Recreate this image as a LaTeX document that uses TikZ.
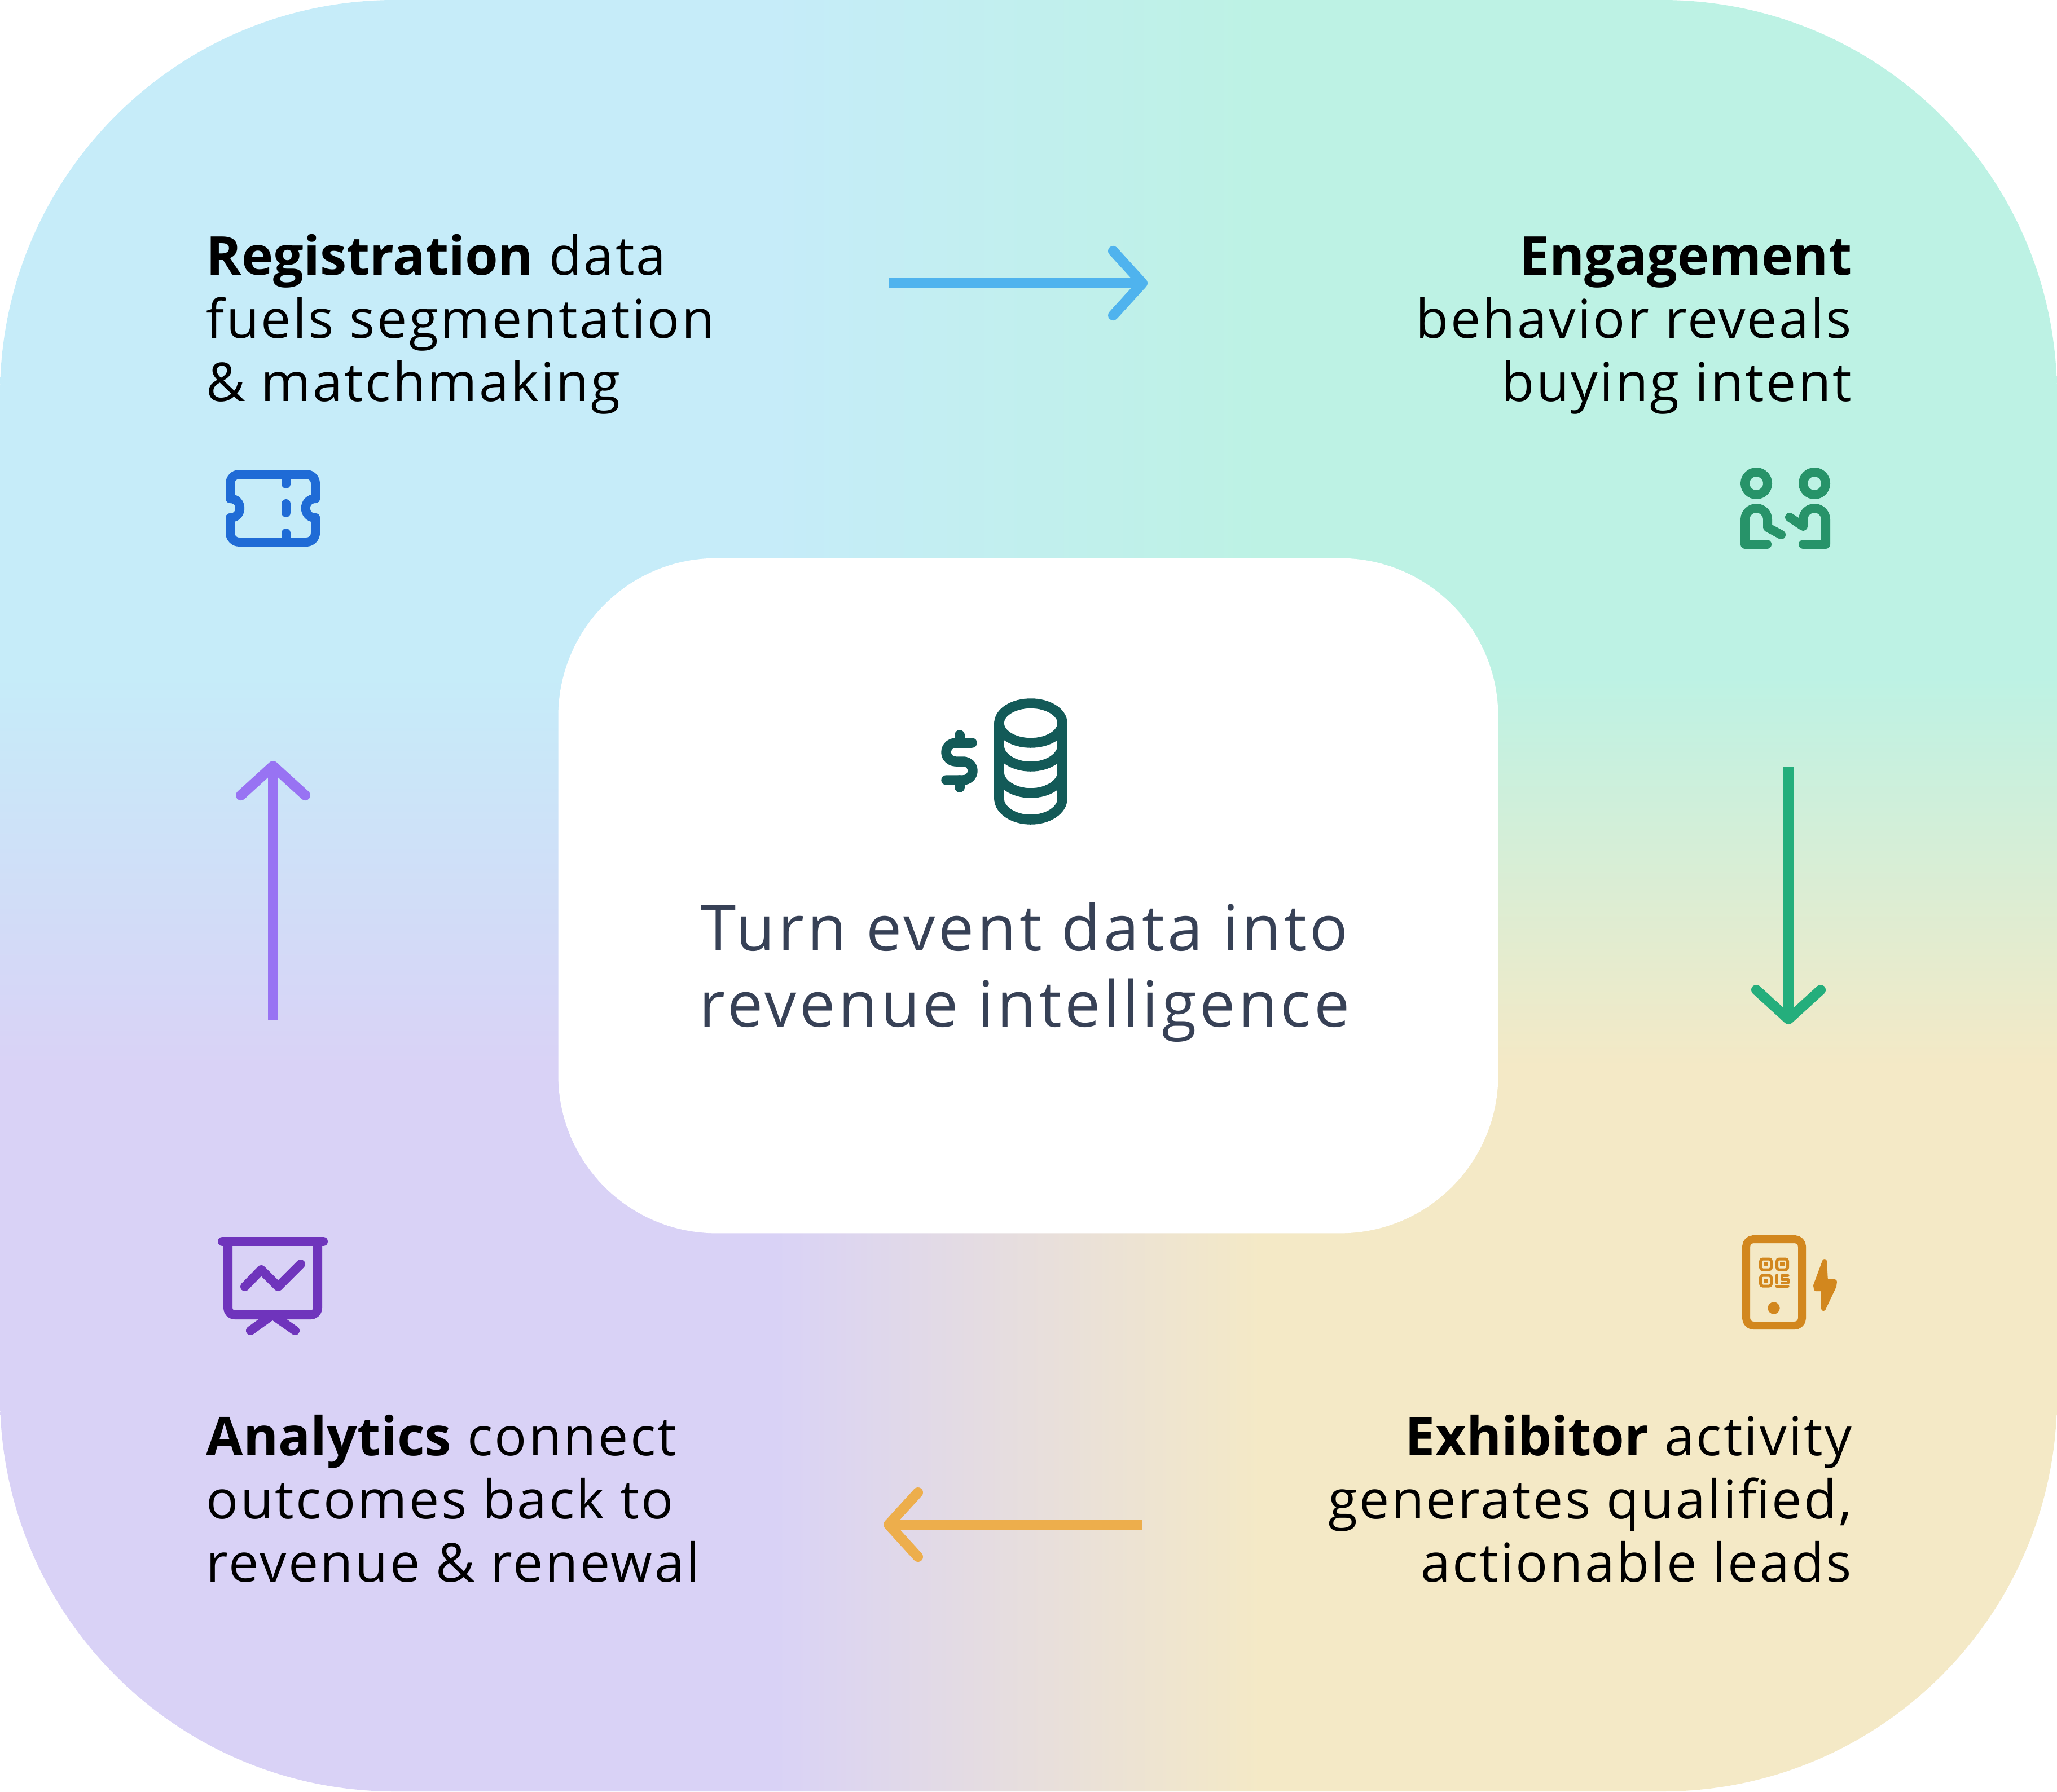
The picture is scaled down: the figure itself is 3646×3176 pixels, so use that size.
\documentclass[tikz,border=0pt]{standalone}
\usepackage{fontspec}
\setmainfont{Open Sans}[LetterSpace=3.5, BoldFeatures={LetterSpace=0}]
\usetikzlibrary{arrows.meta}

\definecolor{ticketblue}{HTML}{1F6BD6}
\definecolor{peoplegreen}{HTML}{279369}
\definecolor{coinsteel}{HTML}{135A58}
\definecolor{chartviolet}{HTML}{6F34BC}
\definecolor{phoneamber}{HTML}{D2871E}
\definecolor{flowblue}{HTML}{4FB3EE}
\definecolor{flowgreen}{HTML}{24AE7C}
\definecolor{floworange}{HTML}{EDAE4C}
\definecolor{flowviolet}{HTML}{9873F3}
\definecolor{hubtext}{HTML}{374156}

\pgfdeclarefunctionalshading{meshback}{\pgfpointorigin}{\pgfpoint{100bp}{100bp}}{}{
  25 sub 2 mul 100 exch sub 37.8 sub 21.7 div
  dup 0 lt {pop 0} if dup 1 gt {pop 1} if
  exch 25 sub 2 mul 37.6 sub 23.8 div
  dup 0 lt {pop 0} if dup 1 gt {pop 1} if
  0 index -0.035 mul 0.776 add 1 index 0.106 mul 0.851 add 1 index sub 3 index mul add
  1 index 0.024 mul 0.925 add 2 index 0.090 mul 0.824 add 1 index sub 4 index mul add
  2 index -0.082 mul 0.976 add 3 index -0.189 mul 0.965 add 1 index sub 5 index mul add
  5 -2 roll pop pop
}

\begin{document}
\begin{tikzpicture}[
  x=0.01cm, y=-0.01cm,
  stage/.style={
    inner sep=0pt,
    font=\fontsize{27}{31.85}\selectfont
  },
  stageleft/.style={stage, anchor=north west, align=left},
  stageright/.style={stage, anchor=north east, align=right},
  hub/.style={
    fill=white,
    rounded corners=2.8cm,
    minimum width=16.65cm,
    minimum height=11.96cm
  },
  flow/.style={
    -{Straight Barb[round, length=5.2mm, width=11.4mm]},
    line width=1.8mm
  },
  icon/.style={line width=1.6mm, line cap=round, line join=round}
]
\useasboundingbox (0,0) rectangle (3646,3176);

\path[shading=meshback, rounded corners=7cm] (0,0) rectangle (3646,3176);

\node[hub] (hubbox) at (1822.5,1588) {};
\node[inner sep=0pt, align=center, text=hubtext, font=\fontsize{32}{38.4}\selectfont\addfontfeature{LetterSpace=5}] (hubtitle) at (1816,1724)
  {Turn event data into\\revenue intelligence};

\node[stageleft] (registration) at (365,415)
  {\textbf{Registration} data\\fuels segmentation\\\& matchmaking};
\node[stageright] (engagement) at (3283,419)
  {\textbf{Engagement}\\behavior reveals\\buying intent};
\node[stageright] (exhibitor) at (3283,2508)
  {\textbf{Exhibitor} activity\\generates qualified,\\actionable leads};
\node[stageleft] (analytics) at (365,2508)
  {\textbf{Analytics} connect\\outcomes back to\\revenue \& renewal};

\coordinate (reg-out) at (1575,502);
\coordinate (eng-in) at (2034,502);
\coordinate (eng-out) at (3170,1360);
\coordinate (exh-in) at (3170,1816);
\coordinate (exh-out) at (2024,2703);
\coordinate (ana-in) at (1566,2703);
\coordinate (ana-out) at (484,1808);
\coordinate (reg-in) at (484,1349);
\draw[flow, flowblue] (reg-out) -- (eng-in);
\draw[flow, flowgreen] (eng-out) -- (exh-in);
\draw[flow, floworange] (exh-out) -- (ana-in);
\draw[flow, flowviolet] (ana-out) -- (reg-in);

\draw[icon, ticketblue, rounded corners=1.6mm] (408,884) -- (408,841) -- (559,841) -- (559,884);
\draw[icon, ticketblue, rounded corners=1.6mm] (408,918) -- (408,961) -- (559,961) -- (559,918);
\draw[icon, ticketblue] (408,884) .. controls (431,884) and (431,918) .. (408,918);
\draw[icon, ticketblue] (559,884) .. controls (536,884) and (536,918) .. (559,918);
\draw[icon, ticketblue] (507,841) -- (507,858);
\draw[icon, ticketblue] (507,893) -- (507,909);
\draw[icon, ticketblue] (507,945) -- (507,961);

\draw[icon, peoplegreen] (3113,857) circle[radius=20];
\draw[icon, peoplegreen] (3216,857) circle[radius=20];
\draw[icon, peoplegreen] (3132,965) -- (3093,965) -- (3093,921)
  .. controls (3093,910) and (3102,901) .. (3113,901)
  .. controls (3124,901) and (3133,910) .. (3133,921) -- (3133,935) -- (3157,948);
\draw[icon, peoplegreen] (3196,965) -- (3236,965) -- (3236,921)
  .. controls (3236,910) and (3227,901) .. (3216,901)
  .. controls (3205,901) and (3196,910) .. (3196,921) -- (3196,933) -- (3172,917);

\draw[icon, coinsteel, line width=1.75mm] (1827,1282) ellipse[x radius=56, y radius=35];
\draw[icon, coinsteel, line width=1.75mm] (1771,1282) -- (1771,1416);
\draw[icon, coinsteel, line width=1.75mm] (1883,1282) -- (1883,1416);
\foreach \rimy in {1322,1369,1416}
  \draw[icon, coinsteel, line width=1.75mm] (1771,\rimy)
    .. controls (1771,\rimy+20) and (1796,\rimy+37) .. (1827,\rimy+37)
    .. controls (1858,\rimy+37) and (1883,\rimy+20) .. (1883,\rimy);
\draw[icon, coinsteel, line width=1.75mm] (1723,1317) -- (1694,1317)
  .. controls (1685,1317) and (1677,1324) .. (1677,1333.5)
  .. controls (1677,1343) and (1685,1350) .. (1694,1350) -- (1707,1350)
  .. controls (1716,1350) and (1724,1357) .. (1724,1366.5)
  .. controls (1724,1376) and (1716,1383) .. (1707,1383) -- (1677,1383);
\draw[icon, coinsteel, line width=1.75mm] (1701,1303) -- (1701,1317);
\draw[icon, coinsteel, line width=1.75mm] (1701,1383) -- (1701,1396);

\draw[icon, chartviolet] (394,2201) -- (573,2201);
\draw[icon, chartviolet, rounded corners=1.2mm] (404,2201) -- (404,2331) -- (563,2331) -- (563,2201);
\draw[icon, chartviolet] (434,2281) -- (463,2251) -- (493,2281) -- (533,2241);
\draw[icon, chartviolet] (444,2359) -- (483,2331) -- (523,2359);

\draw[icon, phoneamber, line width=1.4mm, rounded corners=1.3mm] (3095,2197) rectangle (3194,2350);
\fill[phoneamber] (3144,2319) circle[radius=10.6];
\foreach \cellx/\celly in {3130/2241.5,3159/2241.5,3130/2270.5}{
  \draw[phoneamber, line width=0.5mm, rounded corners=0.4mm] (\cellx-9.5,\celly-9.5) rectangle (\cellx+9.5,\celly+9.5);
  \fill[phoneamber] (\cellx-3.7,\celly-3.7) rectangle (\cellx+3.7,\celly+3.7);
}
\draw[icon, phoneamber, line width=0.5mm] (3149,2261) -- (3149,2274);
\draw[icon, phoneamber, line width=0.5mm] (3169,2261) -- (3158,2261) -- (3158,2268) -- (3169,2268) -- (3169,2274) -- (3159,2274);
\draw[icon, phoneamber, line width=0.5mm] (3149,2280) -- (3169,2280);
\fill[phoneamber, draw=phoneamber, line width=0.8mm, line join=round] (3234,2236) -- (3236,2272) -- (3252,2272) -- (3251,2280) -- (3232,2320) -- (3232,2285) -- (3219,2285) -- (3218,2279) -- cycle;
\end{tikzpicture}
\end{document}
